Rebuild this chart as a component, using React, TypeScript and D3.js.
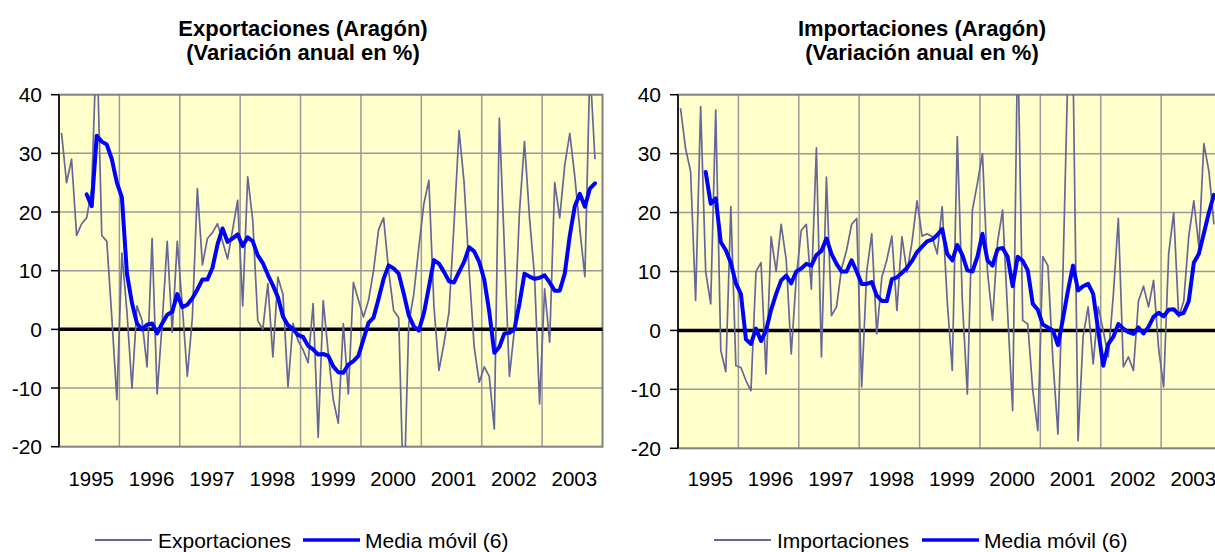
import React from 'react';
import * as d3 from 'd3';

const years = ['1995', '1996', '1997', '1998', '1999', '2000', '2001', '2002', '2003'];
const yTicks = [-20, -10, 0, 10, 20, 30, 40];

// monthly year-on-year change, Jan 1995 .. Nov 2003
const exportaciones = [
	33.5, 25, 29, 16, 18, 19, 24, 50, 16, 15, 2, -12,
	13, 3, -10, 4, 1.5, -6.4, 15.5, -11, 1, 15, -0.5, 15,
	4, -8, 2, 24, 11, 15.5, 16.5, 18, 15, 12, 17, 22,
	4, 26, 18.6, 1.5, 0, 7.8, -4.7, 8.9, 6, -9.8, 1, -1.9,
	-3.5, -5.7, 4.4, -18.4, 4.9, -4, -12, -16, 1, -11, 8, 5,
	2.1, 4.9, 10, 17, 19, 10, 3.2, 2, -30, 1, 6, 14,
	21.4, 25.4, 4, -7, -2.4, 3, 18, 33.9, 25, 10, -3, -9,
	-6.4, -8, -17, 36, 14, -8, 0, 20, 32, 19, 9, -12.7,
	6.9, -2.2, 25, 19, 28, 33.4, 26, 17, 9, 45, 29
];

const exportacionesMedia = [
	null, null, null, null, null, 23, 21, 33, 32, 31.5, 29, 25,
	22.5, 9.5, 4.5, 1, 0, 0.8, 1, -0.7, 1, 2.5, 3, 6,
	3.8, 4.2, 5.3, 6.8, 8.5, 8.5, 10.5, 14.5, 17.2, 14.9, 15.5, 16.2,
	14.2, 15.7, 15, 12.6, 11.3, 9.3, 7.5, 5.5, 2.2, 0.7, 0.1, -1,
	-1.3, -2.8, -3.4, -4.3, -4.2, -4.5, -6.3, -7.3, -7.4, -6, -5.4, -4.5,
	-1.7, 1.1, 2, 5.2, 8.6, 10.9, 10.4, 9.5, 6.1, 2.4, 0.5, -0.2,
	2.7, 7.2, 11.8, 11.2, 9.8, 8.2, 8, 9.8, 11.5, 14, 13.3, 11.5,
	8.5, 3, -4, -3, -0.7, -0.6, 0, 4.4, 9.5, 9, 8.6, 8.8,
	9.2, 8, 6.6, 6.6, 9.5, 16, 21, 23.1, 20.9, 24, 24.9
];

const importaciones = [
	37.7, 30.9, 27, 5.1, 38, 10, 4.5, 37.4, -3.4, -7, 21, -6,
	-6.3, -8.5, -10.2, 10, 11.5, -7.4, 15.9, 10, 18, 12, -4, 9,
	17, 18, 7, 31, -4.5, 26, 2.5, 4, 10.5, 13.6, 18, 19,
	-9.6, 10, 16.4, -0.6, 9, 12, 16, 3.4, 15.9, 9.9, 15, 22,
	16, 16.4, 15.9, 13, 21, 5, -6.8, 32.9, 5, -10.8, 20.4, 25,
	30, 10, 1.7, 15, 20.4, 3, -13.6, 50, 1.7, 1.1, -10.2, -17,
	12.5, 11, -5, -17.6, 10, 45, 45, -18.7, -1, 4, -5.7, 4,
	0, -4.5, 6, 19, -6.2, -4.5, -6.8, 5, 7.5, 4, 8.5, -3,
	-9.6, 13, 20, 2.3, 5, 16, 22, 14.2, 31.7, 27, 18
];

const importacionesMedia = [
	null, null, null, null, null, 26.9, 21.5, 22.4, 15, 13.6, 11.5, 8,
	6.2, -1.5, -2.3, 0.3, -1.8, 0, 3.5, 6.2, 8.5, 9.3, 8, 10,
	10.5, 11.3, 11, 12.8, 13.5, 15.6, 13, 11.3, 10, 10, 11.9, 10,
	7.9, 7.9, 8.2, 5.9, 5, 5, 8.7, 9, 9.8, 10.6, 11.8, 13.3,
	14.2, 15.1, 15.4, 16.2, 17.2, 13, 11.9, 14.5, 12.8, 10.2, 10, 12.5,
	16.4, 11.9, 11, 13.8, 14, 12.5, 7.5, 12.5, 11.8, 10.2, 4.5, 3.5,
	1, 0.5, 0, -2.5, 2, 6.8, 11, 6.8, 7.5, 7.9, 6.2, 0,
	-6, -2.3, -1.1, 1.1, 0.3, -0.3, -0.6, 0.5, -0.5, 0.6, 2.3, 3,
	2.4, 3.5, 3.6, 2.7, 3, 5, 11.5, 13, 16.5, 20, 23
];

const font = "'Liberation Sans', Arial, sans-serif";
const rawColor = '#666699';
const maColor = '#0000ff';

function Panel({ id, dx, bottom, title, name, raw, media }) {
	const left = 59 + dx;
	const right = 602.5 + dx;
	const top = 94.7;

	const y = d3.scaleLinear().domain([-20, 40]).range([bottom, top]);
	const month = d3.scaleLinear().domain([0, years.length * 12]).range([left, right]);
	const yearBand = d3.scaleBand().domain(years).range([left, right]);

	const line = d3.line()
		.defined(d => d[1] !== null)
		.x(d => month(d[0] + 0.5))
		.y(d => y(d[1]));

	const rawPath = line(raw.map((v, i) => [i, v]));
	const maPath = line(media.map((v, i) => [i, v]));

	const legendY = 540;

	return (
		<g>
			<defs>
				<clipPath id={`clip-${id}`}>
					<rect x={left} y={top} width={right - left} height={bottom - top} />
				</clipPath>
			</defs>

			<text x={303 + dx} y={36} textAnchor="middle" fontFamily={font} fontWeight="bold" fontSize={22}>{title}</text>
			<text x={303 + dx} y={60} textAnchor="middle" fontFamily={font} fontWeight="bold" fontSize={22}>(Variación anual en %)</text>

			<rect x={left} y={top} width={right - left} height={bottom - top} fill="#ffffcc" />

			{yTicks.filter(t => t > -20 && t < 40 && t !== 0).map(t => (
				<line key={t} x1={left} x2={right} y1={y(t)} y2={y(t)} stroke="#999999" strokeWidth={1.5} />
			))}
			{years.slice(1).map(yr => (
				<line key={yr} x1={yearBand(yr)} x2={yearBand(yr)} y1={top} y2={bottom} stroke="#999999" strokeWidth={1.5} />
			))}

			<rect x={left} y={top} width={right - left} height={bottom - top} fill="none" stroke="#808080" strokeWidth={2} />

			<line x1={left} x2={right} y1={y(0)} y2={y(0)} stroke="#000" strokeWidth={3.5} />

			<g clipPath={`url(#clip-${id})`}>
				<path d={rawPath} fill="none" stroke={rawColor} strokeWidth={1.7} strokeLinejoin="round" />
				<path d={maPath} fill="none" stroke={maColor} strokeWidth={4} strokeLinejoin="round" strokeLinecap="round" />
			</g>

			<line x1={left} x2={left} y1={top} y2={bottom} stroke="#000" strokeWidth={1.5} />
			{yTicks.map(t => (
				<g key={t}>
					<line x1={left - 8} x2={left} y1={y(t)} y2={y(t)} stroke="#000" strokeWidth={1.5} />
					<text x={left - 17} y={y(t)} dy="0.36em" textAnchor="end" fontFamily={font} fontSize={21}>{t}</text>
				</g>
			))}

			{years.map(yr => (
				<text key={yr} x={yearBand(yr) + yearBand.bandwidth() / 2 + 2} y={486} textAnchor="middle" fontFamily={font} fontSize={20.5}>{yr}</text>
			))}

			<line x1={95 + dx} x2={152 + dx} y1={legendY} y2={legendY} stroke={rawColor} strokeWidth={2} />
			<text x={158 + dx} y={legendY} dy="0.36em" fontFamily={font} fontSize={21}>{name}</text>
			<line x1={303 + dx} x2={360 + dx} y1={legendY} y2={legendY} stroke={maColor} strokeWidth={3.5} />
			<text x={365 + dx} y={legendY} dy="0.36em" fontFamily={font} fontSize={21}>Media móvil (6)</text>
		</g>
	);
}

export default function App() {
	return (
		<svg width={1215} height={552} style={{ position: 'absolute', left: 0, top: 0, background: '#fff' }}>
			<Panel id="exp" dx={0} bottom={446.7} title="Exportaciones (Aragón)" name="Exportaciones"
				raw={exportaciones} media={exportacionesMedia} />
			<Panel id="imp" dx={619} bottom={448.3} title="Importaciones (Aragón)" name="Importaciones"
				raw={importaciones} media={importacionesMedia} />
		</svg>
	);
}
